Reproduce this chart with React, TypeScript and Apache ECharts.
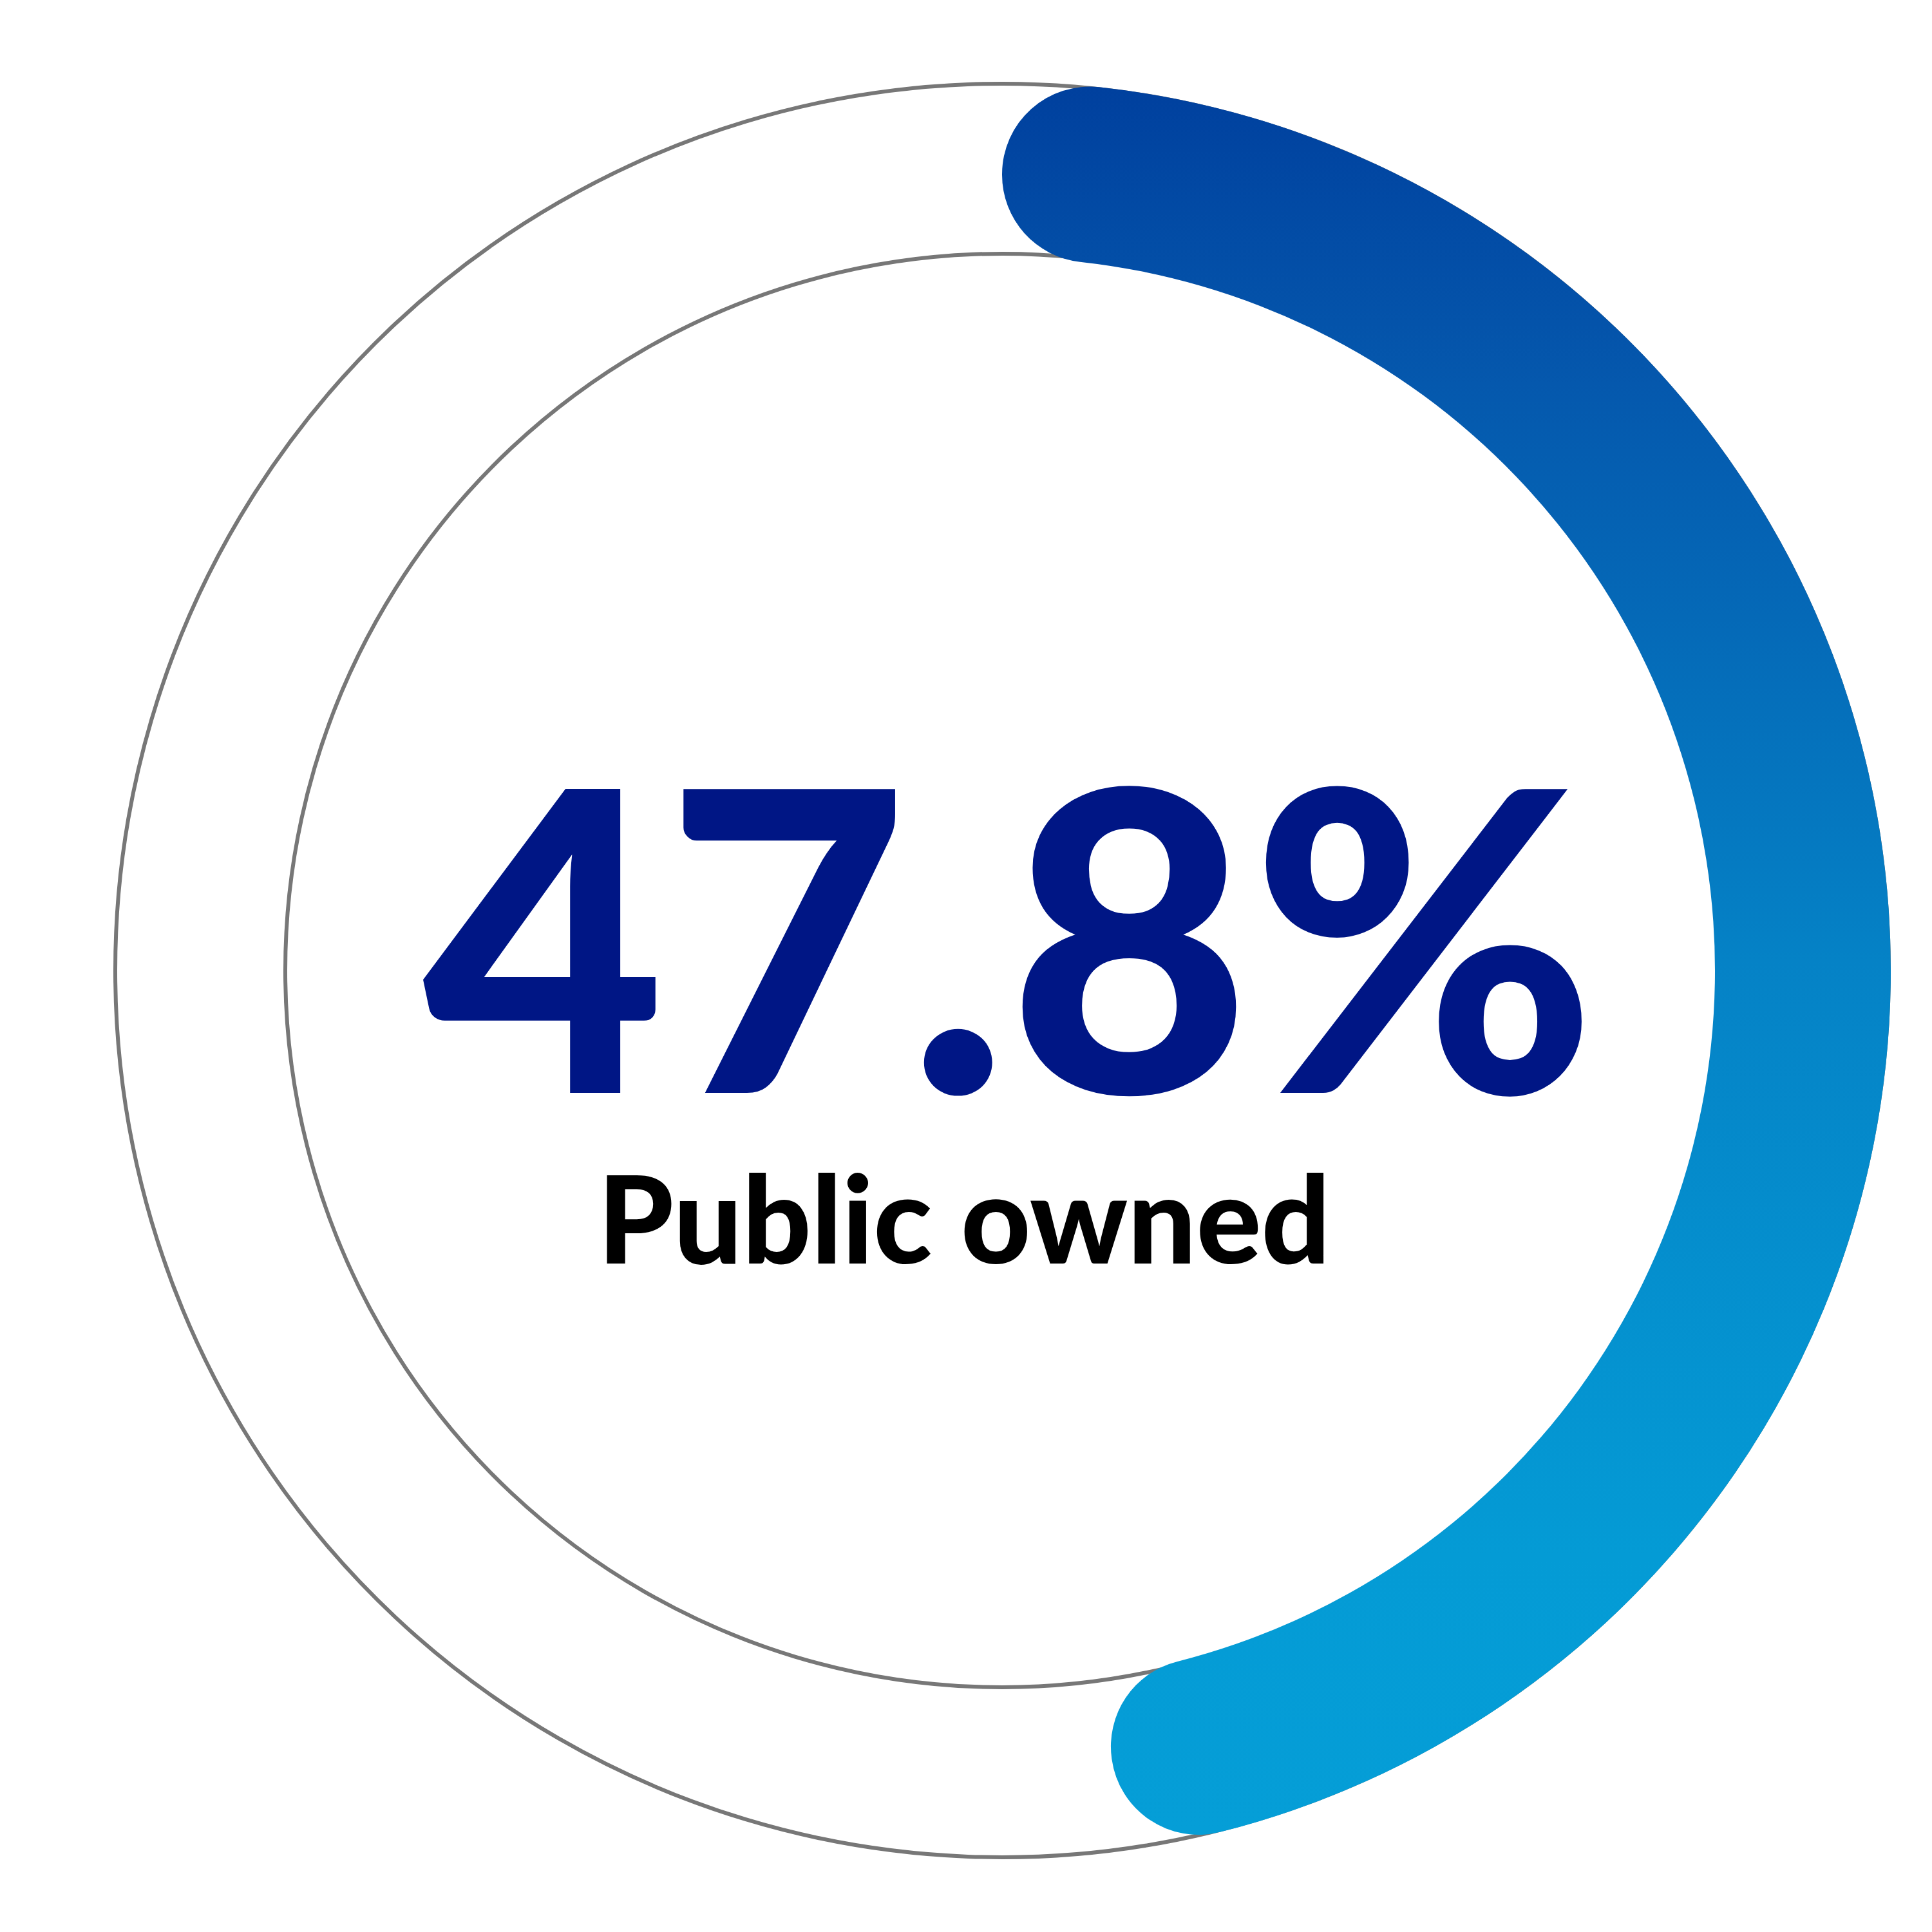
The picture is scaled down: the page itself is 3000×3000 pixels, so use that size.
import React, { useEffect, useRef } from "react";
import * as echarts from "echarts";

const shareValue = [47.8];
const shareTotal = [100];
const shareLabel = ["Public owned"];
const gradientStops = [
  { offset: 0, color: "#00409e" },
  { offset: 0.17, color: "#0558ad" },
  { offset: 0.5, color: "#0582c6" },
  { offset: 0.84, color: "#049bd5" },
  { offset: 1, color: "#059ed7" },
];

const CX = 1556;
const CY = 1507;
const R_OUT = 1377;
const R_IN = 1113;

export default function App() {
  const ref = useRef<HTMLDivElement>(null);
  useEffect(() => {
    if (!ref.current) return;
    const chart = echarts.init(ref.current, null, { renderer: "svg" });
    const value = shareValue[0];
    const rest = shareTotal[0] - value;
    chart.setOption({
      animation: false,
      backgroundColor: "#ffffff",
      graphic: [
        {
          type: "circle",
          z: 0,
          shape: { cx: CX, cy: CY, r: R_OUT },
          style: { fill: "none", stroke: "#777777", lineWidth: 6 },
          silent: true,
        },
        {
          type: "circle",
          z: 0,
          shape: { cx: CX, cy: CY, r: R_IN },
          style: { fill: "none", stroke: "#777777", lineWidth: 6 },
          silent: true,
        },
        {
          type: "text",
          z: 10,
          x: 1568,
          y: 1445,
          style: {
            text: value.toFixed(1) + "%",
            font: "900 650px Lato",
            lineHeight: 500,
            fill: "#001685",
            textAlign: "center",
            textVerticalAlign: "middle",
          },
        },
        {
          type: "text",
          z: 10,
          x: 1497,
          y: 1889,
          style: {
            text: shareLabel[0],
            font: "900 188px Lato",
            lineHeight: 170,
            fill: "#000000",
            textAlign: "center",
            textVerticalAlign: "middle",
          },
        },
      ],
      series: [
        {
          type: "pie",
          z: 2,
          silent: true,
          center: [CX, CY],
          radius: [1107, 1380],
          startAngle: 90,
          clockwise: true,
          label: { show: false },
          labelLine: { show: false },
          emphasis: { disabled: true },
          itemStyle: { borderRadius: 136 },
          data: [
            {
              value: value,
              name: shareLabel[0],
              itemStyle: {
                color: new echarts.graphic.LinearGradient(0, 0, 0, 1, gradientStops),
              },
            },
            {
              value: rest,
              name: "Other",
              itemStyle: { color: "rgba(0,0,0,0)" },
            },
          ],
        },
      ],
    });
    return () => chart.dispose();
  }, []);
  return (
    <div
      ref={ref}
      style={{ position: "absolute", left: 0, top: 0, width: 3000, height: 3000 }}
    />
  );
}
